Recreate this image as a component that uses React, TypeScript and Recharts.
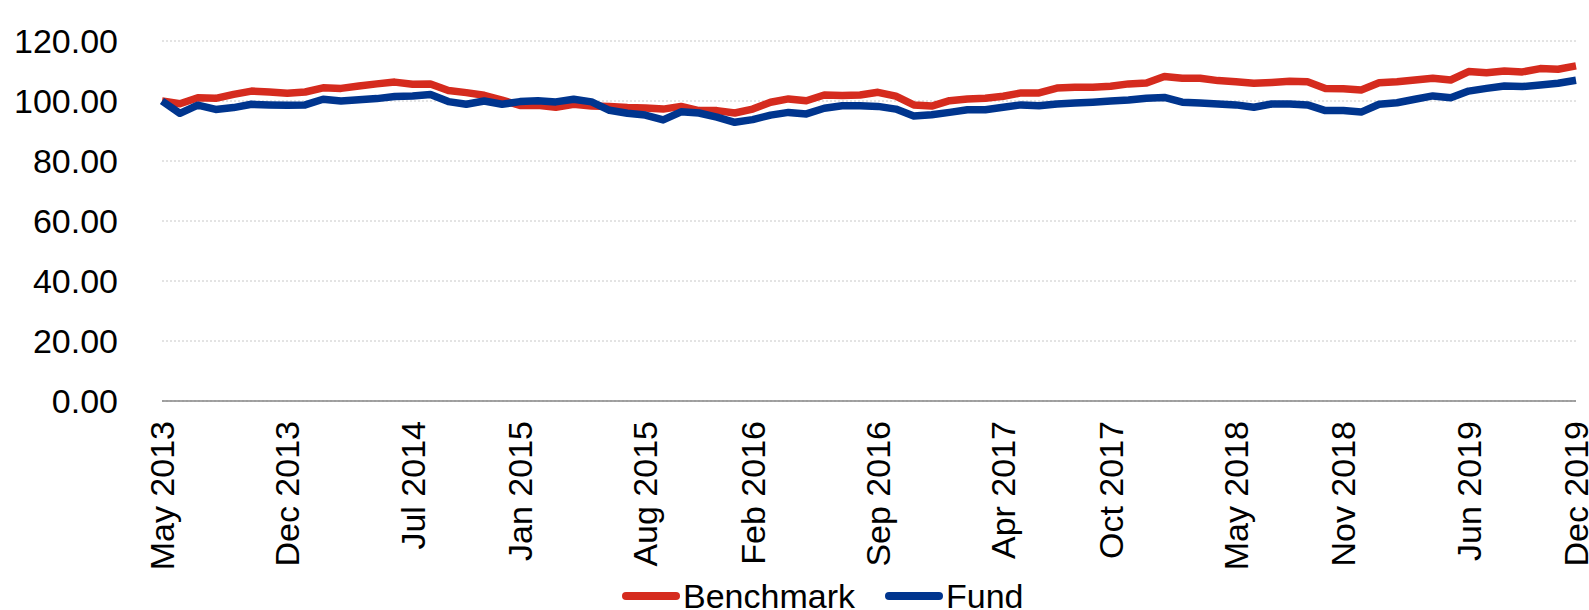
import React from "react";
import { LineChart, Line, XAxis, YAxis, CartesianGrid, Legend } from "recharts";

const months: string[] = [
  "May 2013","Jun 2013","Jul 2013","Aug 2013","Sep 2013","Oct 2013","Nov 2013","Dec 2013",
  "Jan 2014","Feb 2014","Mar 2014","Apr 2014","May 2014","Jun 2014","Jul 2014","Aug 2014","Sep 2014","Oct 2014","Nov 2014","Dec 2014",
  "Jan 2015","Feb 2015","Mar 2015","Apr 2015","May 2015","Jun 2015","Jul 2015","Aug 2015","Sep 2015","Oct 2015","Nov 2015","Dec 2015",
  "Jan 2016","Feb 2016","Mar 2016","Apr 2016","May 2016","Jun 2016","Jul 2016","Aug 2016","Sep 2016","Oct 2016","Nov 2016","Dec 2016",
  "Jan 2017","Feb 2017","Mar 2017","Apr 2017","May 2017","Jun 2017","Jul 2017","Aug 2017","Sep 2017","Oct 2017","Nov 2017","Dec 2017",
  "Jan 2018","Feb 2018","Mar 2018","Apr 2018","May 2018","Jun 2018","Jul 2018","Aug 2018","Sep 2018","Oct 2018","Nov 2018","Dec 2018",
  "Jan 2019","Feb 2019","Mar 2019","Apr 2019","May 2019","Jun 2019","Jul 2019","Aug 2019","Sep 2019","Oct 2019","Nov 2019","Dec 2019",
];

const benchmark: number[] = [
  100, 99.1, 101.1, 100.9, 102.2, 103.3, 103, 102.6, 103, 104.4,
  104.2, 105, 105.7, 106.3, 105.6, 105.7, 103.5, 102.8, 101.9, 100.3,
  98.5, 98.6, 97.9, 98.9, 98.3, 98.2, 97.8, 97.7, 97.3, 98.2,
  96.8, 96.8, 96, 97.3, 99.6, 100.7, 100.1, 102, 101.8, 102,
  102.9, 101.6, 98.7, 98.3, 100.1, 100.7, 100.9, 101.6, 102.7, 102.7,
  104.3, 104.6, 104.6, 104.9, 105.7, 106, 108.2, 107.6, 107.6, 106.8,
  106.4, 105.9, 106.2, 106.6, 106.4, 104.2, 104.1, 103.7, 106.1, 106.4,
  107, 107.6, 107, 109.8, 109.4, 110, 109.7, 110.8, 110.6, 111.7,
];

const fund: number[] = [
  100, 95.9, 98.6, 97.2, 97.8, 98.9, 98.7, 98.6, 98.7, 100.6,
  100, 100.4, 100.8, 101.5, 101.7, 102.2, 99.8, 98.9, 100, 98.9,
  99.8, 100.1, 99.7, 100.6, 99.7, 96.9, 95.9, 95.3, 93.7, 96.4,
  96, 94.6, 92.9, 93.8, 95.3, 96.2, 95.7, 97.6, 98.4, 98.4,
  98.2, 97.3, 95, 95.4, 96.2, 97.1, 97.1, 97.9, 98.7, 98.4,
  99, 99.3, 99.6, 100, 100.3, 100.9, 101.2, 99.6, 99.3, 99,
  98.7, 97.9, 99, 99, 98.7, 96.8, 96.8, 96.3, 98.9, 99.4,
  100.6, 101.7, 101.1, 103.3, 104.2, 105, 104.8, 105.3, 105.9, 106.9,
];

const xTicks: string[] = [
  "May 2013","Dec 2013","Jul 2014","Jan 2015","Aug 2015","Feb 2016","Sep 2016",
  "Apr 2017","Oct 2017","May 2018","Nov 2018","Jun 2019","Dec 2019",
];

const yTicks: number[] = [0, 20, 40, 60, 80, 100, 120];

const RED = "#D52B1E";
const BLUE = "#00358E";
const FONT = "'Liberation Sans', Arial, sans-serif";
const FS = 34;

const data = months.map((m, i) => ({ month: m, Benchmark: benchmark[i], Fund: fund[i] }));

const XTick = (props: any) => {
  const { x, y, payload } = props;
  const ty = y + 12;
  return (
    <text
      x={x}
      y={ty}
      transform={`rotate(-90 ${x} ${ty})`}
      textAnchor="end"
      dominantBaseline="central"
      fontFamily={FONT}
      fontSize={FS}
      fill="#000"
    >
      {payload.value}
    </text>
  );
};

const YTick = (props: any) => {
  const { x, y, payload } = props;
  return (
    <text
      x={x - 36}
      y={y}
      textAnchor="end"
      dominantBaseline="central"
      fontFamily={FONT}
      fontSize={FS}
      fill="#000"
    >
      {Number(payload.value).toFixed(2)}
    </text>
  );
};

const LegendContent = () => {
  const items = [
    { name: "Benchmark", color: RED },
    { name: "Fund", color: BLUE },
  ];
  return (
    <div style={{ display: "flex", alignItems: "center", height: 34, fontFamily: FONT, fontSize: FS, lineHeight: "34px", color: "#000", whiteSpace: "nowrap" }}>
      {items.map((it, i) => (
        <div key={it.name} style={{ display: "flex", alignItems: "center", marginLeft: i === 0 ? 0 : 30 }}>
          <div style={{ width: 58, height: 8, borderRadius: 4, background: it.color, marginRight: 3 }} />
          <span>{it.name}</span>
        </div>
      ))}
    </div>
  );
};

export default function App() {
  return (
    <div style={{ position: "absolute", left: 0, top: 0, width: 1589, height: 610, background: "#fff", overflow: "hidden" }}>
      <LineChart
        width={1589}
        height={610}
        data={data}
        margin={{ top: 41, right: 13, left: 0, bottom: 0 }}
      >
        <CartesianGrid vertical={false} stroke="#c8c8c8" strokeDasharray="2 2" />
        <XAxis
          dataKey="month"
          ticks={xTicks}
          interval={0}
          height={209}
          tick={<XTick />}
          tickLine={false}
          axisLine={{ stroke: "#868686", strokeWidth: 1.5 }}
        />
        <YAxis
          domain={[0, 120]}
          ticks={yTicks}
          width={162}
          tick={<YTick />}
          tickLine={false}
          axisLine={false}
        />
        <Legend
          layout="horizontal"
          verticalAlign="middle"
          align="center"
          content={<LegendContent />}
          wrapperStyle={{ position: "absolute", left: 622, top: 579, width: "auto" }}
        />
        <Line
          type="linear"
          dataKey="Benchmark"
          stroke={RED}
          strokeWidth={7.5}
          dot={false}
          strokeLinejoin="round"
          isAnimationActive={false}
        />
        <Line
          type="linear"
          dataKey="Fund"
          stroke={BLUE}
          strokeWidth={7.5}
          dot={false}
          strokeLinejoin="round"
          isAnimationActive={false}
        />
      </LineChart>
    </div>
  );
}
